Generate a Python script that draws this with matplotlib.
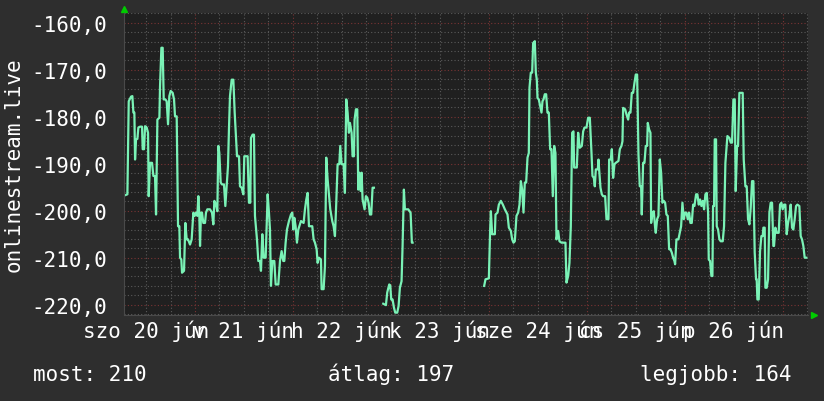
import numpy as np
import matplotlib.pyplot as plt
from matplotlib.ticker import MultipleLocator, FuncFormatter

plt.rcParams['font.family'] = ['DejaVu Sans Mono', 'Liberation Mono']
plt.rcParams['font.size'] = 15

# hours relative to jún 21 00:00 (None = no data)
hours = [
    -17.14, -16.57, -16.24, -15.67, -15.35, -15.10, -14.86, -14.69, -14.45, -14.12,
    -13.88, -13.47, -12.98, -12.82, -12.49, -12.24, -11.84, -11.51, -11.35, -11.02,
    -10.53, -10.20, -9.80, -9.55, -9.22, -8.73, -8.57, -8.24, -7.92, -7.67,
    -7.27, -6.94, -6.61, -6.29, -5.96, -5.47, -5.14, -4.90, -4.49, -4.16,
    -3.84, -3.67, -3.35, -3.18, -2.69, -2.37, -2.04, -1.71, -1.22, -0.82,
    -0.41, -0.08, 0.25, 0.57, 0.82, 1.06, 1.23, 1.47, 1.71, 2.04,
    2.45, 2.69, 3.02, 3.67, 4.16, 4.49, 4.74, 5.14, 5.47, 5.71,
    5.96, 6.29, 6.61, 7.10, 7.43, 7.76, 8.08, 8.33, 8.57, 8.98,
    9.39, 9.72, 10.29, 10.78, 11.02, 11.43, 11.84, 12.08, 12.90, 13.22,
    13.55, 13.71, 14.12, 14.45, 14.69, 15.18, 15.51, 15.92, 16.16, 16.49,
    16.82, 17.31, 17.80, 18.12, 18.37, 18.61, 18.94, 19.43, 19.76, 20.41,
    20.82, 21.22, 21.63, 21.88, 22.20, 22.53, 23.02, 23.51, 23.84, 24.08,
    24.33, 24.65, 24.98, 25.31, 25.96, 26.61, 26.94, 27.27, 27.59, 27.92,
    28.24, 28.73, 29.06, 29.39, 29.80, 30.04, 30.37, 30.86, 31.02, 31.51,
    31.84, 32.16, 32.49, 32.82, 33.14, 33.63, 33.96, 34.29, 34.61, 34.94,
    35.35, 35.59, 35.92, 36.41, 36.73, 37.06, 37.39, 37.71, 37.96, 38.37,
    38.61, 38.94, 39.10, 39.43, 39.76, 40.00, 40.25, 40.57, 40.82, 41.06,
    41.55, 41.88, 42.20, 42.53, 42.86, 43.18, 43.51, 43.84, 45.00, 46.12,
    46.78, 47.10, 47.59, 47.84, 48.08, 48.41, 48.74, 49.06, 49.55, 49.88,
    50.20, 50.61, 50.86, 51.18, 51.43, 52.24, 52.82, 53.14, 53.31, 60.00,
    70.85, 71.18, 72.00, 72.32, 72.49, 72.81, 73.47, 73.63, 74.12, 74.45,
    74.94, 75.43, 75.92, 76.57, 76.90, 77.39, 77.71, 78.04, 78.36, 78.77,
    79.18, 79.51, 79.84, 80.16, 80.49, 80.81, 81.14, 81.47, 81.79, 81.96,
    82.28, 82.61, 82.85, 83.26, 83.51, 83.75, 83.92, 84.24, 84.57, 84.90,
    85.14, 85.39, 85.71, 86.04, 86.36, 86.69, 87.02, 87.34, 87.67, 88.00,
    88.32, 88.57, 88.98, 89.30, 89.79, 90.77, 91.02, 91.43, 91.75, 92.08,
    92.41, 92.73, 92.90, 93.55, 93.88, 94.28, 94.78, 95.11, 95.43, 95.92,
    96.33, 96.74, 97.15, 97.39, 97.72, 97.96, 98.21, 98.70, 98.86, 99.02,
    99.35, 99.68, 100.00, 100.49, 100.82, 101.31, 101.47, 101.88, 102.13, 102.45,
    102.78, 103.11, 103.76, 104.09, 104.49, 104.74, 104.90, 105.39, 105.72, 106.13,
    106.37, 106.70, 107.02, 107.35, 107.68, 108.00, 108.33, 108.66, 108.98, 109.31,
    109.47, 109.80, 110.13, 110.45, 110.78, 110.94, 111.27, 111.60, 111.76, 112.09,
    112.41, 112.74, 112.90, 113.23, 113.56, 113.88, 114.21, 114.53, 114.86, 115.19,
    115.51, 115.84, 116.17, 116.49, 116.82, 117.15, 117.47, 117.64, 117.96, 118.45,
    118.78, 119.11, 119.43, 119.76, 120.09, 120.41, 120.74, 121.07, 121.39, 121.72,
    122.05, 122.37, 122.78, 123.10, 123.43, 123.76, 124.08, 124.41, 124.74, 125.06,
    125.39, 125.72, 125.88, 126.20, 126.53, 126.78, 126.94, 127.18, 127.35, 127.67,
    127.84, 128.16, 128.49, 128.82, 129.31, 129.63, 129.96, 130.45, 130.94, 131.27,
    131.59, 131.92, 132.25, 132.49, 132.82, 133.06, 133.39, 134.20, 134.45, 134.86,
    135.18, 135.51, 135.84, 136.16, 136.49, 136.82, 137.14, 137.47, 137.63, 137.80,
    138.12, 138.45, 138.78, 139.10, 139.27, 139.59, 139.76, 140.08, 140.41, 140.74,
    141.06, 141.39, 141.71, 141.88, 142.20, 142.53, 143.02, 143.35, 143.67, 144.00,
    144.33, 144.65, 144.98, 145.31, 145.63, 145.96, 146.29, 146.61, 146.94, 147.27,
    147.59, 148.08, 148.41, 148.73, 149.06, 149.39, 149.80,
]
rank = [
    -196.7, -196.5, -176.7, -175.7, -175.6, -179.1, -179.1, -189.1, -184.8, -184.7,
    -182.3, -182.1, -182.1, -186.9, -186.9, -182.0, -182.3, -183.4, -196.9, -189.8,
    -189.8, -192.6, -192.6, -200.8, -180.6, -180.2, -173.5, -165.3, -165.3, -176.3,
    -176.3, -176.7, -181.6, -175.6, -174.5, -174.9, -176.3, -179.9, -179.9, -203.3,
    -203.3, -210.0, -210.4, -213.2, -212.8, -202.6, -206.1, -206.1, -207.2, -206.1,
    -200.4, -201.1, -200.4, -201.1, -196.9, -201.1, -207.5, -200.4, -200.4, -202.6,
    -202.6, -200.4, -199.7, -199.7, -200.4, -202.9, -197.9, -198.7, -200.1, -186.2,
    -187.7, -194.0, -194.4, -194.4, -199.0, -194.8, -190.5, -182.3, -175.6, -172.1,
    -172.1, -179.1, -188.4, -188.4, -194.8, -195.1, -196.5, -188.4, -188.4, -198.3,
    -198.3, -184.5, -183.8, -183.8, -201.1, -206.1, -210.7, -210.7, -212.8, -205.0,
    -210.0, -210.0, -196.5, -200.4, -204.0, -216.0, -210.7, -210.7, -215.7, -215.7,
    -210.7, -208.6, -210.7, -210.7, -206.8, -204.0, -202.2, -200.8, -200.4, -204.0,
    -201.5, -203.3, -206.8, -204.0, -202.2, -202.6, -199.7, -197.6, -196.2, -203.3,
    -203.3, -203.3, -206.1, -206.8, -208.2, -211.1, -210.0, -210.4, -216.7, -216.7,
    -211.8, -188.7, -193.3, -196.5, -199.7, -202.2, -203.3, -205.4, -198.3, -190.1,
    -190.1, -186.2, -190.1, -190.1, -196.2, -176.3, -179.1, -183.4, -181.3, -183.4,
    -188.4, -188.4, -180.6, -178.4, -178.4, -195.5, -191.9, -195.8, -191.9, -197.6,
    -199.7, -196.9, -197.2, -198.3, -200.8, -200.8, -195.1, -195.1, None, -219.8,
    -220.1, -217.4, -215.7, -215.9, -218.9, -218.9, -220.6, -221.7, -221.7, -220.3,
    -216.4, -215.0, -207.5, -195.5, -199.7, -199.7, -200.4, -206.8, -206.8, None,
    -216.0, -214.6, -214.4, -204.0, -200.1, -205.0, -205.0, -200.8, -200.4, -198.7,
    -197.9, -198.7, -199.7, -200.8, -203.6, -204.3, -206.1, -206.8, -206.5, -201.1,
    -200.4, -198.7, -193.7, -195.5, -200.4, -194.0, -194.0, -188.7, -187.7, -173.8,
    -170.6, -170.6, -164.3, -163.9, -170.6, -172.1, -176.0, -176.3, -177.7, -179.1,
    -176.7, -176.3, -175.2, -175.2, -179.1, -179.1, -186.9, -186.9, -196.9, -186.2,
    -187.7, -206.1, -204.3, -206.5, -206.8, -206.8, -215.3, -213.9, -211.1, -203.3,
    -183.4, -183.1, -190.8, -190.8, -183.4, -186.6, -186.2, -183.1, -182.3, -182.3,
    -180.2, -180.2, -187.7, -192.6, -193.0, -194.8, -191.2, -191.2, -189.1, -191.2,
    -195.1, -196.5, -196.9, -196.9, -201.8, -201.8, -189.1, -189.1, -186.9, -193.0,
    -190.1, -189.8, -189.4, -186.9, -186.2, -185.2, -178.1, -178.4, -179.5, -180.6,
    -179.1, -179.1, -174.9, -174.9, -172.8, -171.0, -171.0, -188.0, -194.8, -194.8,
    -200.8, -189.8, -189.8, -186.2, -186.2, -181.3, -182.7, -183.4, -202.6, -200.4,
    -200.1, -203.6, -204.7, -201.8, -201.1, -189.1, -191.9, -198.3, -197.9, -198.3,
    -200.8, -201.1, -208.2, -208.2, -208.9, -210.0, -210.7, -211.4, -206.1, -206.1,
    -204.7, -203.3, -198.3, -201.8, -200.4, -200.4, -201.8, -200.4, -202.6, -202.6,
    -198.7, -199.0, -196.5, -196.5, -198.7, -197.6, -199.0, -197.9, -199.7, -196.5,
    -196.2, -200.4, -210.4, -210.7, -213.9, -213.9, -199.0, -199.0, -184.8, -184.8,
    -203.3, -204.0, -206.1, -206.5, -206.5, -203.3, -189.8, -184.1, -184.5, -185.5,
    -185.5, -176.3, -176.3, -195.8, -186.2, -186.2, -174.9, -174.9, -189.1, -194.8,
    -194.8, -201.8, -202.9, -199.4, -193.7, -193.7, -208.9, -214.6, -214.6, -218.9,
    -218.9, -208.6, -205.4, -205.4, -203.6, -203.6, -216.4, -216.4, -214.6, -200.4,
    -198.3, -198.3, -207.5, -207.5, -203.6, -204.7, -204.7, -198.7, -198.3, -199.7,
    -198.7, -198.7, -205.0, -202.6, -201.1, -198.7, -203.6, -204.0, -201.8, -199.0,
    -198.7, -199.0, -205.4, -206.1, -207.5, -210.0, -210.0,
]

day_centers = [-12, 12, 36, 60, 84, 108, 132]
day_labels = ["szo 20 jún", "v 21 jún", "h 22 jún", "k 23 jún",
              "sze 24 jún", "cs 25 jún", "p 26 jún"]
legend_items = ["most: 210", "átlag: 197", "legjobb: 164"]

x = np.array(hours)
y = np.array([np.nan if v is None else v for v in rank])

fig = plt.figure(figsize=(8.24, 4.02), dpi=100, facecolor="#2e2e2e")
ax = fig.add_axes([124 / 824, 1 - 316 / 402, 684 / 824, 302 / 402])
ax.set_facecolor("#202020")

ax.plot(x, y, color="#7af2b6", lw=1.6)

ax.set_xlim(-17.4, 150.2)
ax.set_ylim(-222.2, -157.9)

ax.xaxis.set_major_locator(MultipleLocator(24))
ax.xaxis.set_minor_locator(MultipleLocator(6))
ax.yaxis.set_major_locator(MultipleLocator(10))
ax.yaxis.set_minor_locator(MultipleLocator(2))
ax.yaxis.set_major_formatter(FuncFormatter(lambda v, p: f"{v:.1f}".replace(".", ",")))
ax.set_xticklabels([])

ax.grid(which="major", color="#7a3434", lw=0.8, ls=(0, (1, 2)))
ax.grid(which="minor", color="#5a5a5a", lw=0.8, ls=(0, (1, 2)))
ax.set_axisbelow(True)

ax.tick_params(which="both", length=0, colors="white")
ax.tick_params(axis="y", pad=12, labelsize=15)
for s in ["top", "right"]:
    ax.spines[s].set_visible(False)
for s in ["left", "bottom"]:
    ax.spines[s].set_color("#4a4a4a")

sec = ax.secondary_xaxis("bottom")
sec.set_xticks(day_centers, labels=day_labels)
sec.tick_params(length=0, pad=3, labelsize=15, colors="white")
sec.spines["bottom"].set_visible(False)

# rrdtool style arrows
ax.plot([0], [1.012], marker="^", color="#00cc00", ms=5, transform=ax.transAxes, clip_on=False)
ax.plot([1.009], [0.0], marker=">", color="#00cc00", ms=5, transform=ax.transAxes, clip_on=False)

fig.text(14 / 824, 1 - 165 / 402, "onlinestream.live", rotation=90,
         ha="center", va="center", color="white", fontsize=15)

fig.text(33 / 824, 1 - 381 / 402, legend_items[0], ha="left", va="baseline", color="white", fontsize=15)
fig.text(328 / 824, 1 - 381 / 402, legend_items[1], ha="left", va="baseline", color="white", fontsize=15)
fig.text(791 / 824, 1 - 381 / 402, legend_items[2], ha="right", va="baseline", color="white", fontsize=15)

fig.savefig("out.png", dpi=100, facecolor=fig.get_facecolor())
